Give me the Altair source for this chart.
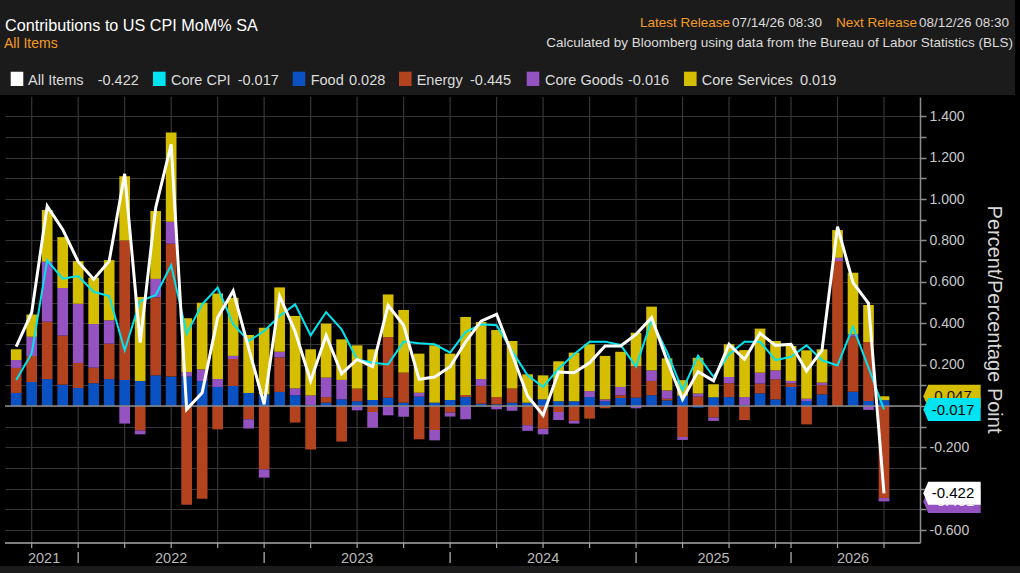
import altair as alt
import pandas as pd

# ---------------- data ----------------
months = [
    "2021-08", "2021-09", "2021-10", "2021-11", "2021-12",
    "2022-01", "2022-02", "2022-03", "2022-04", "2022-05", "2022-06",
    "2022-07", "2022-08", "2022-09", "2022-10", "2022-11", "2022-12",
    "2023-01", "2023-02", "2023-03", "2023-04", "2023-05", "2023-06",
    "2023-07", "2023-08", "2023-09", "2023-10", "2023-11", "2023-12",
    "2024-01", "2024-02", "2024-03", "2024-04", "2024-05", "2024-06",
    "2024-07", "2024-08", "2024-09", "2024-10", "2024-11", "2024-12",
    "2025-01", "2025-02", "2025-03", "2025-04", "2025-05", "2025-06",
    "2025-07", "2025-08", "2025-09", "2025-12",
    "2026-01", "2026-02", "2026-03", "2026-04", "2026-05", "2026-06",
]
food = [0.063, 0.116, 0.130, 0.103, 0.087, 0.110, 0.130, 0.126, 0.121, 0.148, 0.142,
        0.142, 0.121, 0.092, 0.097, 0.063, 0.056, 0.068, 0.052, 0.005, 0.016, 0.032,
        0.023, 0.029, 0.040, 0.016, 0.045, 0.016, 0.029, 0.043, 0.011, 0.008, 0.016,
        0.016, 0.032, 0.023, 0.023, 0.043, 0.023, 0.039, 0.040, 0.052, 0.027, 0.050,
        -0.008, 0.042, 0.043, 0.005, 0.061, 0.032, 0.092, 0.024, 0.056, 0.000, 0.069,
        0.024, 0.028]
energy = [0.121, 0.126, 0.277, 0.237, 0.121, 0.075, 0.171, 0.674, -0.118, 0.377, 0.642,
          -0.477, -0.448, -0.113, 0.130, -0.064, -0.306, 0.167, -0.080, -0.210, 0.027,
          -0.172, 0.061, -0.029, 0.293, 0.145, -0.161, -0.116, -0.032, 0.010, 0.086,
          0.035, 0.068, -0.093, -0.110, -0.029, -0.072, -0.061, -0.011, 0.013, 0.153,
          0.069, 0.008, -0.150, 0.045, -0.056, 0.067, -0.068, 0.047, 0.097, 0.018,
          -0.089, 0.045, 0.700, 0.266, 0.285, -0.445]
core_goods = [0.038, 0.092, 0.290, 0.230, 0.286, 0.211, 0.113, -0.085, -0.019, 0.089, 0.106,
              0.022, 0.056, 0.038, 0.015, -0.045, -0.040, 0.027, 0.033, 0.046, 0.094,
              0.094, -0.021, -0.076, -0.045, -0.052, 0.019, -0.050, -0.019, -0.064, 0.033,
              -0.016, -0.023, -0.027, -0.027, -0.039, -0.013, 0.029, 0.009, 0.040, -0.011,
              0.051, 0.040, -0.014, 0.015, -0.016, 0.030, 0.038, 0.053, 0.043, 0.011,
              0.011, 0.012, 0.016, 0.011, -0.019, -0.016]
core_services = [0.052, 0.108, 0.250, 0.246, 0.206, 0.224, 0.291, 0.310, 0.406, 0.328, 0.432,
                 0.260, 0.322, 0.414, 0.281, 0.280, 0.322, 0.311, 0.350, 0.223, 0.261,
                 0.196, 0.209, 0.245, 0.206, 0.303, 0.189, 0.277, 0.224, 0.377, 0.276,
                 0.324, 0.230, 0.137, 0.116, 0.193, 0.235, 0.226, 0.210, 0.170, 0.161,
                 0.308, 0.155, 0.075, 0.173, 0.063, 0.158, 0.227, 0.213, 0.142, 0.169,
                 0.234, 0.161, 0.134, 0.298, 0.179, 0.019]
all_items = [0.287, 0.451, 0.966, 0.853, 0.697, 0.612, 0.700, 1.122, 0.306, 0.958, 1.264,
             -0.016, 0.064, 0.427, 0.556, 0.280, 0.008, 0.531, 0.360, 0.121, 0.341,
             0.156, 0.225, 0.190, 0.486, 0.390, 0.129, 0.140, 0.190, 0.310, 0.410,
             0.443, 0.250, 0.048, -0.045, 0.164, 0.161, 0.209, 0.290, 0.290, 0.346,
             0.427, 0.220, 0.033, 0.166, 0.122, 0.298, 0.225, 0.351, 0.293, 0.298,
             0.169, 0.270, 0.866, 0.596, 0.496, -0.422]
core_cpi = [0.126, 0.254, 0.704, 0.615, 0.628, 0.552, 0.531, 0.269, 0.507, 0.535, 0.680,
            0.349, 0.491, 0.572, 0.395, 0.314, 0.362, 0.435, 0.491, 0.341, 0.454,
            0.370, 0.225, 0.209, 0.201, 0.311, 0.303, 0.298, 0.258, 0.357, 0.395,
            0.390, 0.265, 0.148, 0.092, 0.180, 0.250, 0.311, 0.311, 0.295, 0.190,
            0.415, 0.260, 0.076, 0.243, 0.141, 0.250, 0.311, 0.311, 0.221, 0.238,
            0.293, 0.221, 0.196, 0.382, 0.185, -0.017]

series_names = ["Food", "Energy", "Core Goods", "Core Services"]
series_colors = ["#0a52c4", "#b3431e", "#9553c1", "#d5bd00"]
y_ticks = [round(-0.6 + 0.1 * i, 1) for i in range(21)]

# ---------------- layout constants ----------------
FONT = "Liberation Sans, Arial, sans-serif"
PAD_L, PAD_T = 5, 97
W, H = 915, 446
X_DOM = [-0.4, 58.0]
Y_DOM = [-0.662, 1.493]
GRID = "#363636"
AXIS_GRAY = "#8c8c8c"
ORANGE = "#f59a23"
LIGHT = "#dcdcdc"


def px(x):
    return x - PAD_L


def py(y):
    return y - PAD_T


xs = alt.Scale(domain=X_DOM, nice=False, zero=False)
ys = alt.Scale(domain=Y_DOM, nice=False, zero=False)
one = pd.DataFrame({"d": [0]})

label_expr = (
    "abs(round(datum.value*10)) % 2 == 0 ? "
    "replace(format(datum.value, '.3f'), '\u2212', '-') : ''"
)
Y_AXIS = alt.Axis(
    orient="right", values=y_ticks, grid=True, gridColor=GRID, gridWidth=1.2,
    domain=True, domainColor=AXIS_GRAY, domainWidth=1.5,
    ticks=True, tickColor=AXIS_GRAY, tickSize=6, tickWidth=1.5,
    labelColor="#c8c8c8", labelFont=FONT, labelFontSize=14, labelPadding=3,
    labelExpr=label_expr, title=None, zindex=0,
)


def text(t, x, y, color, size, align="left", angle=0, baseline="alphabetic"):
    return alt.Chart(pd.DataFrame({"t": [t]})).mark_text(
        align=align, baseline=baseline, color=color, fontSize=size, font=FONT, angle=angle
    ).encode(text="t:N", x=alt.value(px(x)), y=alt.value(py(y)))


def rect(x1, x2, y1, y2, color):
    return alt.Chart(one).mark_rect(color=color).encode(
        x=alt.value(px(x1)), x2=alt.value(px(x2)), y=alt.value(py(y1)), y2=alt.value(py(y2))
    )


idx = list(range(len(months)))
rows = []
for order, (name, vals) in enumerate(zip(series_names, [food, energy, core_goods, core_services])):
    for i, v in enumerate(vals):
        rows.append({"i": i, "month": months[i], "series": name, "value": v, "ord": order})
bars_df = pd.DataFrame(rows)
line_df = pd.DataFrame({"i": idx, "month": months, "all": all_items, "core": core_cpi})

q_idx = [i for i, m in enumerate(months) if m[-2:] in ("03", "06", "09", "12")]
dec_idx = [i for i, m in enumerate(months) if m[-2:] == "12"]
years = sorted(set(m[:4] for m in months))
year_rows = []
for y in years:
    left = [i for i, m in enumerate(months) if m == f"{int(y) - 1}-12"]
    right = [i for i, m in enumerate(months) if m == f"{y}-12"]
    lo = left[0] if left else X_DOM[0]
    hi = right[0] if right else X_DOM[1]
    year_rows.append({"year": y, "c": (lo + hi) / 2})
year_df = pd.DataFrame(year_rows)

layers = []

# backgrounds
layers.append(rect(0, 1015, 0, 95, "#1b1b1b"))
layers.append(rect(0, 1020, 566, 573, "#1b1b1b"))

# vertical gridlines at quarter ends
layers.append(
    alt.Chart(pd.DataFrame({"i": q_idx})).mark_rule(color=GRID, strokeWidth=1.2).encode(
        x=alt.X("i:Q", scale=xs, axis=None), y=alt.value(0), y2=alt.value(H)
    )
)

# stacked bars (with right y axis)
layers.append(
    alt.Chart(bars_df).mark_bar(size=10.7, orient="vertical").encode(
        x=alt.X("i:Q", scale=xs, axis=None),
        y=alt.Y("value:Q", scale=ys, stack="zero", axis=Y_AXIS),
        color=alt.Color("series:N", scale=alt.Scale(domain=series_names, range=series_colors), legend=None),
        order=alt.Order("ord:Q", sort="ascending"),
    )
)

# zero line
layers.append(
    alt.Chart(pd.DataFrame({"v": [0.0]})).mark_rule(color="#8a8a8a", strokeWidth=1.5).encode(
        y=alt.Y("v:Q", scale=ys, axis=Y_AXIS), x=alt.value(0), x2=alt.value(W)
    )
)

# lines
layers.append(
    alt.Chart(line_df).mark_line(color="#00e3f0", strokeWidth=2).encode(
        x=alt.X("i:Q", scale=xs, axis=None), y=alt.Y("core:Q", scale=ys, axis=Y_AXIS)
    )
)
layers.append(
    alt.Chart(line_df).mark_line(color="#ffffff", strokeWidth=3).encode(
        x=alt.X("i:Q", scale=xs, axis=None), y=alt.Y("all:Q", scale=ys, axis=Y_AXIS)
    )
)

# bottom axis
layers.append(
    alt.Chart(one).mark_rule(color="#a8a8a8", strokeWidth=1.5).encode(
        x=alt.value(0), x2=alt.value(W), y=alt.value(H)
    )
)
layers.append(
    alt.Chart(pd.DataFrame({"i": q_idx})).mark_rule(color="#a8a8a8", strokeWidth=1.2).encode(
        x=alt.X("i:Q", scale=xs, axis=None), y=alt.value(H), y2=alt.value(H + 5)
    )
)
layers.append(
    alt.Chart(pd.DataFrame({"i": dec_idx})).mark_rule(color="#bdbdbd", strokeWidth=1.2).encode(
        x=alt.X("i:Q", scale=xs, axis=None), y=alt.value(py(552)), y2=alt.value(py(563))
    )
)
layers.append(
    alt.Chart(year_df).mark_text(color="#b8b8b8", fontSize=14.5, font=FONT, align="center",
                                 baseline="alphabetic").encode(
        x=alt.X("c:Q", scale=xs, axis=None), y=alt.value(py(563)), text="year:N"
    )
)

# right axis title
layers.append(text("Percent/Percentage Point", 994, 319.5, "#d8d8d8", 20,
                   align="center", angle=90, baseline="middle"))

# last-value tags
TAG_PATH = "M -1 0 L -0.83 -0.4 L 1 -0.4 L 1 0.4 L -0.83 0.4 Z"
pos_top = food[-1] + core_services[-1]
neg_bot = energy[-1] + core_goods[-1]
tags = [
    (pos_top, series_colors[3], "#111111"),
    (neg_bot, series_colors[2], "#ffffff"),
    (core_cpi[-1], "#00e3f0", "#000000"),
    (all_items[-1], "#ffffff", "#000000"),
]
for val, fill, tcol in tags:
    tdf = pd.DataFrame({"v": [val], "t": [f"{val:.3f}"]})
    base = alt.Chart(tdf)
    layers.append(
        base.mark_point(shape=TAG_PATH, filled=True, color=fill, opacity=1, size=(28.7 * 2) ** 2).encode(
            x=alt.value(px(952)), y=alt.Y("v:Q", scale=ys, axis=Y_AXIS)
        )
    )
    layers.append(
        base.mark_text(color=tcol, fontSize=15, font=FONT, align="center", baseline="middle").encode(
            x=alt.value(px(953)), y=alt.Y("v:Q", scale=ys, axis=Y_AXIS), text="t:N"
        )
    )

# header texts
layers.append(text("Contributions to US CPI MoM% SA", 5, 30.5, "#ffffff", 16.2))
layers.append(text("All Items", 4, 48, ORANGE, 14))
layers.append(text("Latest Release", 640, 27, ORANGE, 13.5))
layers.append(text("07/14/26 08:30", 732, 27, LIGHT, 13.5))
layers.append(text("Next Release", 836, 27, ORANGE, 13.5))
layers.append(text("08/12/26 08:30", 919, 27, LIGHT, 13.5))
layers.append(text("Calculated by Bloomberg using data from the Bureau of Labor Statistics (BLS)",
                   1013, 47, LIGHT, 13.5, align="right"))

# legend row
legend_items = [
    ("All Items", all_items[-1], "#ffffff"),
    ("Core CPI", core_cpi[-1], "#00e3f0"),
    ("Food", food[-1], series_colors[0]),
    ("Energy", energy[-1], series_colors[1]),
    ("Core Goods", core_goods[-1], series_colors[2]),
    ("Core Services", core_services[-1], series_colors[3]),
]
sq_x = [10.7, 153, 292.7, 399, 526.7, 684]
lab_x = [28, 171, 310.7, 416.7, 545, 701.7]
val_x = [97.7, 237.7, 349, 470, 628, 800]
for (name, v, col), sx, lx, vx in zip(legend_items, sq_x, lab_x, val_x):
    layers.append(rect(sx, sx + 12.6, 71.7, 86, col))
    layers.append(text(name, lx, 85, LIGHT, 14.5))
    layers.append(text(f"{v:.3f}", vx, 85, LIGHT, 14.5))

chart = alt.layer(*layers).properties(
    width=W, height=H,
    background="#000000",
    padding={"left": PAD_L, "top": PAD_T, "right": 1020 - PAD_L - W, "bottom": 573 - PAD_T - H},
    autosize=alt.AutoSizeParams(type="none"),
).configure_view(stroke=None, fill="#000000")

chart.save("out.html", embed_options={"renderer": "svg", "actions": False})
